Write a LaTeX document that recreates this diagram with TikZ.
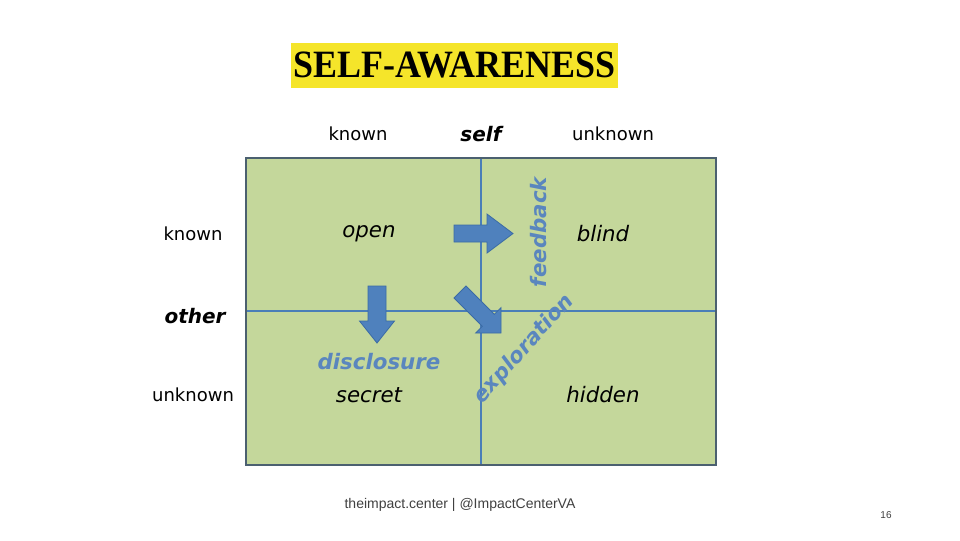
\documentclass[tikz,border=0pt]{standalone}
\usepackage{fontspec}
\setmainfont{DejaVu Sans}
\newfontfamily\titlefont{Liberation Serif}
\newfontfamily\footfont{Liberation Sans}
\definecolor{gridfill}{HTML}{C4D79B}
\definecolor{gridborder}{HTML}{4B6070}
\definecolor{gridline}{HTML}{4A7EB8}
\definecolor{arrowfill}{HTML}{4F81BD}
\definecolor{arrowedge}{HTML}{3A6BA5}
\definecolor{bluetext}{HTML}{5A86BE}
\definecolor{titleyellow}{HTML}{F5E52A}
\definecolor{foot}{HTML}{404040}
\tikzset{
  axislabel/.style={font=\fontsize{13.5pt}{16pt}\selectfont, text=black, inner sep=0pt},
  axistitle/.style={font=\fontsize{15pt}{18pt}\selectfont\bfseries\itshape, text=black, inner sep=0pt},
  quadlabel/.style={font=\fontsize{16pt}{19pt}\selectfont\itshape, text=black, inner sep=0pt},
  bluelabel/.style={font=\fontsize{16pt}{19pt}\selectfont\bfseries\itshape, text=bluetext, inner sep=0pt},
  blockarrow/.style={fill=arrowfill, draw=arrowedge, line width=0.6pt, line join=miter},
}
\begin{document}
\begin{tikzpicture}[x=0.75pt,y=-0.75pt]
\useasboundingbox[fill=white] (0,0) rectangle (960,540);
% title
\fill[titleyellow] (291,43) rectangle (618,88);
\node[font=\titlefont\fontsize{29pt}{32pt}\selectfont\bfseries, inner sep=0pt] (title) at (454.5,65) {\scalebox{0.93}[1]{SELF-AWARENESS}};
% grid
\draw[fill=gridfill, draw=gridborder, line width=2.2pt] (246,158) rectangle (716,465);
\draw[gridline, line width=0.9pt] (481,159) -- (481,464);
\draw[gridline, line width=0.9pt] (247,311) -- (715,311);
% top labels
\node[axislabel] (tknown) at (358,134) {known};
\node[axistitle] (self) at (481,134) {self};
\node[axislabel] (tunknown) at (613,134) {unknown};
% left labels
\node[axislabel] (lknown) at (193,234) {known};
\node[axistitle] (other) at (195,316) {other};
\node[axislabel] (lunknown) at (193,395) {unknown};
% quadrant labels
\node[quadlabel] (open) at (369,234) {open};
\node[quadlabel] (blind) at (603,234) {blind};
\node[quadlabel] (secret) at (369,395) {secret};
\node[quadlabel] (hidden) at (603,395) {hidden};
% blue labels
\node[bluelabel] (disclosure) at (379,362) {disclosure};
\node[bluelabel, rotate=90] (feedback) at (539,232) {feedback};
\node[bluelabel, rotate=48] (exploration) at (524,349) {exploration};
% arrows
\draw[blockarrow] (454,225) -- (487,225) -- (487,214) -- (513,233.5) -- (487,253) -- (487,242) -- (454,242) -- cycle;
\draw[blockarrow] (368,286) -- (386,286) -- (386,321) -- (394.5,321) -- (377,343) -- (359.5,321) -- (368,321) -- cycle;
\draw[blockarrow] (466,286) -- (494.3,314.3) -- (501,307.6) -- (501,333) -- (475.6,333) -- (482.3,326.3) -- (454,298) -- cycle;
% footer
\node[font=\footfont\fontsize{10.5pt}{12pt}\selectfont, text=foot, inner sep=0pt] (footer) at (460,505) {theimpact.center | @ImpactCenterVA};
\node[font=\footfont\fontsize{7.5pt}{9pt}\selectfont, text=foot, inner sep=0pt] (page) at (886,515) {16};
\end{tikzpicture}
\end{document}
